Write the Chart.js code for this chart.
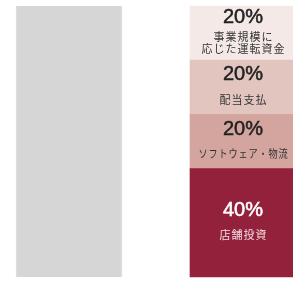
<!DOCTYPE html>
<html>
<head>
<meta charset="utf-8">
<script src="https://cdn.jsdelivr.net/npm/chart.js@4/dist/chart.umd.min.js"></script>
<style>
  html, body { margin: 0; padding: 0; background: #fff; }
  #wrap { width: 293px; height: 281px; position: relative; }
</style>
</head>
<body>
<div id="wrap"><canvas id="fundChart"></canvas></div>
<script>
// Dữ liệu biểu đồ: cột tổng bên trái, cột phân bổ bên phải
const categories = ['全体', '内訳'];
const totalValues = [100, null];

// Các phần của cột phân bổ (từ dưới lên trên)
const segmentLabels = [
    ['店舗投資'],
    ['ソフトウェア・物流'],
    ['配当支払'],
    ['事業規模に', '応じた運転資金']
];
const segmentValues = [40, 20, 20, 20];
const segmentColors = ['#93213b', '#d3a59e', '#e2c5bf', '#f5e9e8'];
const percentColors = ['#ffffff', '#222222', '#222222', '#222222'];
const labelColors = ['#f3dde2', '#333333', '#333333', '#333333'];

const datasets = [{
    label: '全体',
    data: totalValues,
    backgroundColor: '#d6d6d6',
    borderColor: '#e2e2e2',
    borderWidth: { left: 1, right: 1, top: 0, bottom: 0 },
    borderSkipped: false
}];
segmentValues.forEach((v, i) => {
    datasets.push({
        label: segmentLabels[i].join(''),
        data: [null, v],
        backgroundColor: segmentColors[i],
        borderWidth: 0
    });
});

// Plugin vẽ nhãn phần trăm và tên trong mỗi đoạn
const segmentText = {
    id: 'segmentText',
    afterDatasetsDraw(chart) {
        const ctx = chart.ctx;
        ctx.save();
        ctx.textAlign = 'center';
        ctx.textBaseline = 'middle';
        segmentValues.forEach((v, i) => {
            const bar = chart.getDatasetMeta(i + 1).data[1];
            if (!bar) return;
            const mid = (bar.y + bar.base) / 2;
            const lines = segmentLabels[i];
            const gap = lines.length === 1 ? 25 : 18.5;
            const lineH = 12;
            const blockH = gap + (lines.length - 1) * lineH;
            const pctY = mid - blockH / 2;
            ctx.letterSpacing = '0px';
            ctx.fillStyle = percentColors[i];
            ctx.strokeStyle = percentColors[i];
            ctx.lineWidth = 0.5;
            ctx.font = '20px "Liberation Sans", Arial, sans-serif';
            ctx.fillText(v + '%', bar.x, pctY);
            ctx.strokeText(v + '%', bar.x, pctY);
            ctx.fillStyle = labelColors[i];
            ctx.font = '11px "Noto Sans CJK JP", sans-serif';
            ctx.letterSpacing = '1px';
            lines.forEach((t, j) => {
                ctx.fillText(t, bar.x + 0.5, pctY + gap + j * lineH, 90);
            });
        });
        ctx.restore();
    }
};

new Chart(document.getElementById('fundChart'), {
    type: 'bar',
    data: { labels: categories, datasets: datasets },
    options: {
        responsive: true,
        maintainAspectRatio: false,
        animation: false,
        devicePixelRatio: 1,
        clip: false,
        barThickness: 106,
        layout: { padding: { left: 69, right: 50, top: 6, bottom: 4 } },
        plugins: {
            legend: { display: false },
            tooltip: { enabled: false }
        },
        scales: {
            x: {
                stacked: true,
                offset: false,
                display: false,
                grid: { display: false }
            },
            y: {
                stacked: true,
                display: false,
                min: 0,
                max: 100,
                grid: { display: false }
            }
        }
    },
    plugins: [segmentText]
});
</script>
</body>
</html>
